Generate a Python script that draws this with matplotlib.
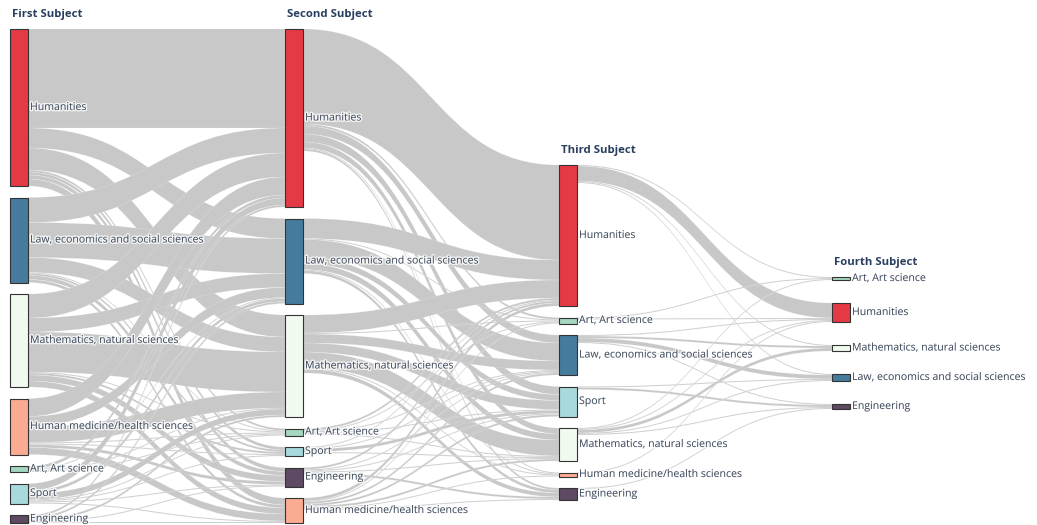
import matplotlib
matplotlib.use('Agg')
from matplotlib import pyplot as plt
from matplotlib.path import Path
from matplotlib.patches import PathPatch, Rectangle
import matplotlib.patheffects as pe

# subjects per stage, in the order they are stacked (top to bottom)
stage_titles = ['First Subject', 'Second Subject', 'Third Subject', 'Fourth Subject']
stage1 = ['Humanities', 'Law, economics and social sciences', 'Mathematics, natural sciences',
          'Human medicine/health sciences', 'Art, Art science', 'Sport', 'Engineering']
stage2 = ['Humanities', 'Law, economics and social sciences', 'Mathematics, natural sciences',
          'Art, Art science', 'Sport', 'Engineering', 'Human medicine/health sciences']
stage3 = ['Humanities', 'Art, Art science', 'Law, economics and social sciences', 'Sport',
          'Mathematics, natural sciences', 'Human medicine/health sciences', 'Engineering']
stage4 = ['Art, Art science', 'Humanities', 'Mathematics, natural sciences',
          'Law, economics and social sciences', 'Engineering']

# flows: rows = source stage order, columns = target stage order
flows_1_2 = [
    [99, 20, 22, 2, 3, 4, 7],
    [25, 35, 15, 1, 2, 4, 3],
    [24, 14, 40, 1, 2, 6, 6],
    [18, 10, 16, 1, 1, 3, 7],
    [3, 1, 1, 1, 0, 0, 0],
    [7, 3, 6, 1, 1, 1, 1],
    [2, 2, 2, 0, 0, 1, 1],
]
flows_2_3 = [
    [95, 2, 8, 8, 6, 1, 2],
    [20, 1, 18, 6, 6, 1, 3],
    [18, 1, 9, 9, 16, 1, 4],
    [2, 1, 1, 1, 1, 0, 0],
    [1, 0, 1, 3, 1, 0, 0],
    [2, 0, 1, 1, 1, 0, 2],
    [3, 1, 2, 2, 2, 1, 1],
]
flows_3_4 = [
    [1, 15, 1, 1, 0],
    [1, 1, 0, 0, 0],
    [0, 1, 2, 4, 1],
    [0, 0, 0, 1, 2],
    [1, 1, 3, 1, 1],
    [0, 1, 0, 0, 0],
    [0, 0, 0, 0, 1],
]

colors = {
    'Humanities': '#e63946',
    'Law, economics and social sciences': '#457b9d',
    'Mathematics, natural sciences': '#f1faee',
    'Human medicine/health sciences': '#fcab93',
    'Art, Art science': '#a5d6bf',
    'Sport': '#a8dadc',
    'Engineering': '#5e4a63',
}

stages = [stage1, stage2, stage3, stage4]
flows = [flows_1_2, flows_2_3, flows_3_4]

# node values = max(inflow, outflow)
values = []
for s, names in enumerate(stages):
    vals = []
    for n in range(len(names)):
        inflow = sum(row[n] for row in flows[s - 1]) if s > 0 else 0
        outflow = sum(flows[s][n]) if s < len(flows) else 0
        vals.append(max(inflow, outflow))
    values.append(vals)

# layout (pixel space)
W, H = 1037, 525
col_x = [10, 285, 559, 832]
col_top = [29, 29, 165, 277]
col_pad = [11.5, 11.5, 11.5, 23]
node_w = 18
k = (523 - 29 - 6 * 11.5) / max(sum(values[0]), sum(values[1]))

fig = plt.figure(figsize=(W / 100, H / 100), dpi=100)
ax = fig.add_axes([0, 0, 1, 1])
ax.set_xlim(0, W)
ax.set_ylim(H, 0)
ax.axis('off')

node_y = []
for s, vals in enumerate(values):
    ys = []
    y = col_top[s]
    for v in vals:
        ys.append(y)
        y += v * k + col_pad[s]
    node_y.append(ys)

# links
for s, F in enumerate(flows):
    x0 = col_x[s] + node_w
    x1 = col_x[s + 1]
    xm = (x0 + x1) / 2
    src_off = list(node_y[s])
    tgt_off = list(node_y[s + 1])
    for i, row in enumerate(F):
        for j, v in enumerate(row):
            if v <= 0:
                continue
            h = v * k
            sy0, ty0 = src_off[i], tgt_off[j]
            sy1, ty1 = sy0 + h, ty0 + h
            src_off[i] += h
            tgt_off[j] += h
            verts = [(x0, sy0), (xm, sy0), (xm, ty0), (x1, ty0), (x1, ty1),
                     (xm, ty1), (xm, sy1), (x0, sy1), (x0, sy0)]
            codes = [Path.MOVETO, Path.CURVE4, Path.CURVE4, Path.CURVE4, Path.LINETO,
                     Path.CURVE4, Path.CURVE4, Path.CURVE4, Path.CLOSEPOLY]
            ax.add_patch(PathPatch(Path(verts, codes), facecolor='#c8c8c8',
                                   edgecolor=(1, 1, 1, 0.5), lw=0.2, zorder=1))

# nodes and labels
halo = [pe.withStroke(linewidth=2, foreground='white', alpha=0.8)]
for s, names in enumerate(stages):
    for n, name in enumerate(names):
        y = node_y[s][n]
        h = values[s][n] * k
        ax.add_patch(Rectangle((col_x[s], y), node_w, h, facecolor=colors[name],
                               edgecolor='#333333', lw=0.8, zorder=3))
        ax.text(col_x[s] + node_w + 2, y + h / 2, name, va='center', ha='left',
                fontsize=7.6, family='Open Sans', color='#3d4a5c', zorder=4,
                path_effects=halo)
    ax.text(col_x[s] + 2, col_top[s] - 15, stage_titles[s], va='center', ha='left',
            fontsize=8.2, family='Open Sans', fontweight='bold', color='#2a3f5f')

plt.savefig('out.png', dpi=100)
